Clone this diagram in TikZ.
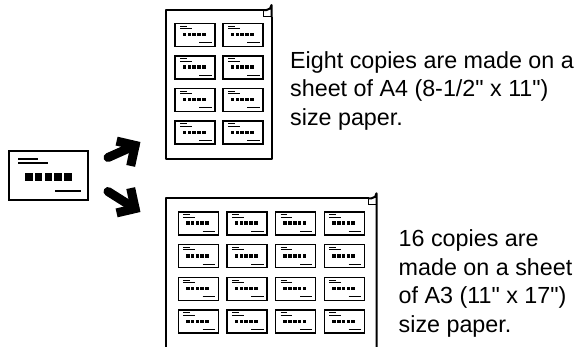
\documentclass[tikz,border=0pt]{standalone}
\usepackage{fontspec}
\setmainfont{Liberation Sans}[Ligatures=TeXOff]
\begin{document}
\begin{tikzpicture}[x=1pt,y=-1pt,
  paperline/.style={line width=2pt,line join=round},
  foldline/.style={line width=1pt},
  arrowshaft/.style={line width=9pt,line cap=round},
  arrowhead/.style={line width=9pt,line cap=butt,line join=miter},
  lbl/.style={inner sep=0pt,align=left,anchor=base west,font=\fontsize{23.3}{28.6}\selectfont},
  card/.pic={
    \draw[line width=1.3pt] (0,0) rectangle (40,23);
    \draw[line width=0.9pt] (5,2.8) -- (11.7,2.8) (5,5.1) -- (16.7,5.1) (24.3,19.4) -- (36.7,19.4);
    \foreach \i in {0,...,4} \fill ({7.7+4.8*\i},9.4) rectangle ++(3.6,3.4);
  }]
\useasboundingbox (0,0) rectangle (584,346);

% original card
\node[draw,line width=2pt,minimum width=79pt,minimum height=49pt,inner sep=0pt,anchor=north west] (orig) at (8,150) {};
\draw[line width=1.6pt] (18,159) -- (38,159) (18,163) -- (48,163) (55,191) -- (81,191);
\foreach \i in {0,...,4} \fill ({25+9.8*\i},172.8) rectangle ++(7.5,7.7);

% arrows
\coordinate (ut) at (108,157.5);
\coordinate (uT) at (135.1,145.4);
\coordinate (ua) at (116.6,141.1);
\coordinate (ub) at (130.7,165.9);
\draw[arrowshaft] (ut) -- (uT);
\draw[arrowhead] (ua) -- (uT) -- (ub);
\coordinate (lt) at (108,191.5);
\coordinate (lT) at (135.1,208.6);
\coordinate (la) at (130.7,188.1);
\coordinate (lb) at (116.6,212.9);
\draw[arrowshaft] (lt) -- (lT);
\draw[arrowhead] (la) -- (lT) -- (lb);

% A4 sheet
\draw[paperline] (264,10) -- (166,10) -- (166,159.3) -- (271.5,159.3) -- (271.5,17);
\draw[paperline] (264,10) -- (266.5,10) arc[start angle=90,end angle=0,radius=5] -- (271.5,17);
\draw[foldline] (263.5,10) -- (263.5,16.5) -- (271.5,16.5);
\foreach \c in {0,1} \foreach \r in {0,...,3}
  \pic at ({175+48*\c},{23.3+32.6*\r}) {card};

% A3 sheet
\draw[paperline] (368.5,198.3) -- (166,198.3) -- (166,350);
\draw[paperline] (368.5,198.3) -- (371.5,198.3) arc[start angle=90,end angle=0,radius=5] -- (376.5,350);
\draw[foldline] (368.3,198.3) -- (368.3,204) -- (376.5,204);
\foreach \c in {0,...,3} \foreach \r in {0,...,3}
  \pic at ({178.3+48.7*\c},{212+32.7*\r}) {card};

% texts (anchored at the baseline of the last line)
\node[lbl] (t1) at (290,125.5) {Eight copies are made on a\\sheet of A4 (8-1/2" x 11")\\size paper.};
\node[lbl] (t2) at (398.5,332.5) {16 copies are\\made on a sheet\\of A3 (11" x 17")\\size paper.};
\end{tikzpicture}
\end{document}
